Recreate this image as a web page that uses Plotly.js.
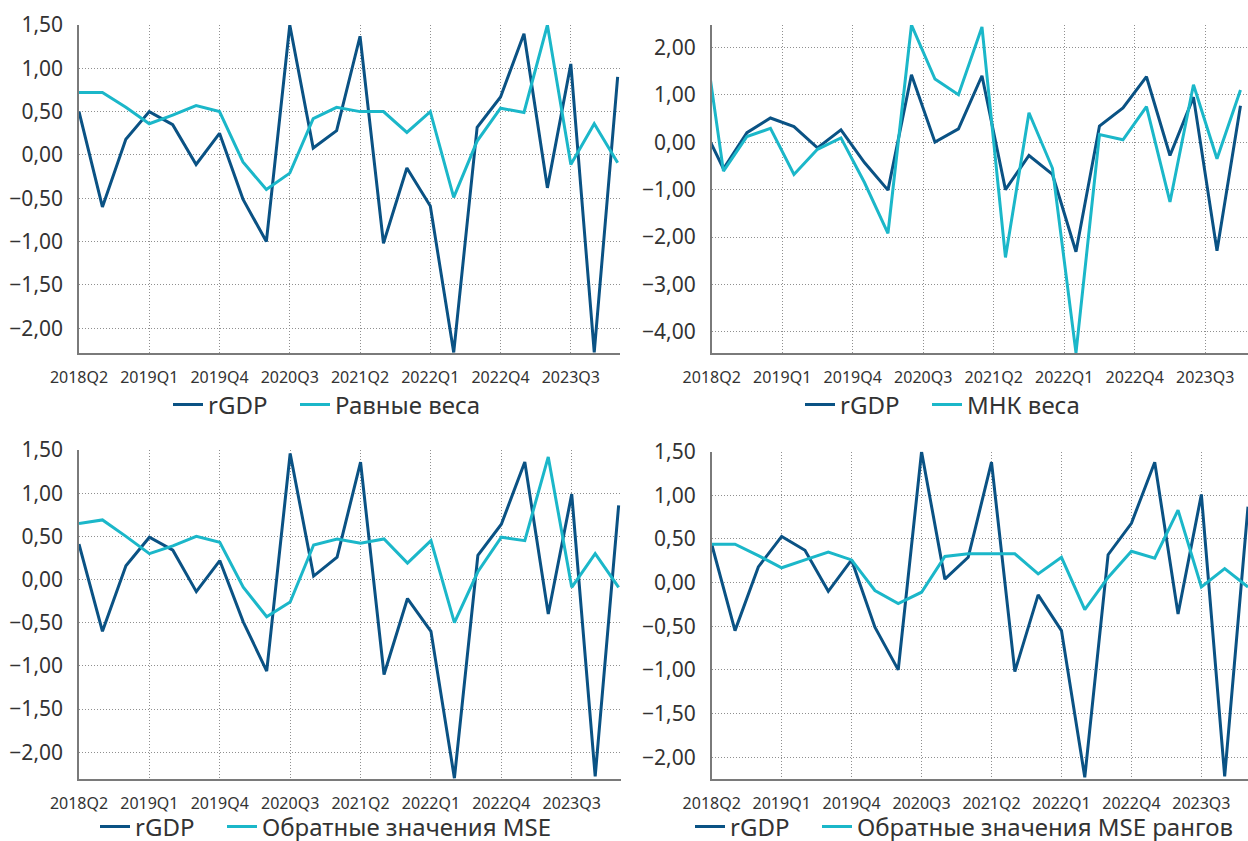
<!DOCTYPE html>
<html>
<head>
<meta charset="utf-8">
<script src="https://cdn.plot.ly/plotly-3.0.1.min.js"></script>
<style>html,body{margin:0;padding:0;background:#fff}#chart{width:1248px;height:841px}</style>
</head>
<body>
<div id="chart"></div>
<script>
// Quarters 2018Q2 .. 2024Q1
const quarters = ['2018Q2','2018Q3','2018Q4','2019Q1','2019Q2','2019Q3','2019Q4','2020Q1','2020Q2','2020Q3','2020Q4','2021Q1','2021Q2','2021Q3','2021Q4','2022Q1','2022Q2','2022Q3','2022Q4','2023Q1','2023Q2','2023Q3','2023Q4','2024Q1'];
const tickLabels = ['2018Q2','2019Q1','2019Q4','2020Q3','2021Q2','2022Q1','2022Q4','2023Q3'];

// Panel 1: rGDP vs equal weights
const rgdp1 = [0.50,-0.60,0.18,0.50,0.35,-0.11,0.25,-0.51,-1.00,1.50,0.08,0.28,1.37,-1.02,-0.15,-0.59,-2.28,0.32,0.67,1.40,-0.38,1.05,-2.28,0.90];
const equalW = [0.72,0.72,0.55,0.36,0.46,0.57,0.50,-0.08,-0.40,-0.21,0.42,0.55,0.50,0.50,0.26,0.50,-0.49,0.16,0.54,0.49,1.50,-0.11,0.36,-0.09];

// Panel 2: rGDP vs OLS weights
const rgdp2 = [0.46,-0.56,0.20,0.51,0.33,-0.12,0.26,-0.43,-1.01,1.42,0.00,0.28,1.40,-1.00,-0.28,-0.68,-2.31,0.34,0.72,1.38,-0.28,0.95,-2.29,0.77];
const olsW  = [2.87,-0.61,0.12,0.29,-0.68,-0.15,0.09,-0.85,-1.92,2.47,1.33,1.00,2.43,-2.43,0.62,-0.55,-4.44,0.16,0.05,0.75,-1.26,1.21,-0.35,1.10];

// Panel 3: rGDP vs inverse MSE
const rgdp3 = [0.41,-0.60,0.16,0.49,0.34,-0.14,0.22,-0.49,-1.06,1.46,0.04,0.26,1.36,-1.10,-0.22,-0.60,-2.30,0.28,0.64,1.36,-0.40,0.99,-2.28,0.86];
const invMSE = [0.65,0.69,0.50,0.30,0.39,0.50,0.43,-0.09,-0.43,-0.26,0.40,0.47,0.42,0.47,0.19,0.45,-0.50,0.09,0.49,0.45,1.42,-0.09,0.30,-0.09];

// Panel 4: rGDP vs inverse MSE ranks
const rgdp4 = [0.44,-0.55,0.18,0.53,0.37,-0.10,0.26,-0.51,-1.00,1.50,0.04,0.29,1.38,-1.02,-0.14,-0.55,-2.23,0.32,0.68,1.38,-0.36,1.01,-2.22,0.87];
const invMSERank = [0.44,0.44,0.31,0.17,0.26,0.35,0.26,-0.09,-0.24,-0.11,0.30,0.33,0.33,0.33,0.10,0.29,-0.31,0.06,0.36,0.28,0.83,-0.05,0.16,-0.05];

const names = ['Равные веса','МНК веса','Обратные значения MSE','Обратные значения MSE рангов'];

const DARK = '#0a5284';
const LIGHT = '#1bb7c9';
const FONT = '"Noto Sans", "Open Sans", sans-serif';
const idx = quarters.map((q,i)=>i);

const panels = [
  {rg: rgdp1, s: equalW, name: names[0]},
  {rg: rgdp2, s: olsW, name: names[1]},
  {rg: rgdp3, s: invMSE, name: names[2]},
  {rg: rgdp4, s: invMSERank, name: names[3]}
];

const traces = [];
panels.forEach((p,k)=>{
  const ax = k===0 ? '' : String(k+1);
  const lg = k===0 ? 'legend' : 'legend'+(k+1);
  traces.push({x: idx, y: p.rg, type:'scatter', mode:'lines', name:'rGDP',
    line:{color:DARK,width:3}, xaxis:'x'+ax, yaxis:'y'+ax, legend:lg, legendwidth:82,
    text: quarters, hoverinfo:'text+y', cliponaxis:true});
  traces.push({x: idx, y: p.s, type:'scatter', mode:'lines', name:p.name,
    line:{color:LIGHT,width:3}, xaxis:'x'+ax, yaxis:'y'+ax, legend:lg,
    text: quarters, hoverinfo:'text+y', cliponaxis:true});
});

const GRID = '#8f8f8f';
function xa(domain, range, offset, anchor){
  return {domain:domain, range:range, anchor:anchor, tickmode:'array', automargin:false,
    tickvals: tickLabels.map((t,i)=>i*3+offset), ticktext: tickLabels,
    showgrid:true, gridcolor:GRID, griddash:'1px,2px', gridwidth:1,
    showline:true, linecolor:'#7a7a7a', linewidth:1.5, zeroline:false,
    ticks:'', tickfont:{family:FONT,size:16,color:'#333'}, ticklabelstandoff:9, fixedrange:true};
}
function ya(domain, range, dtick, anchor){
  return {domain:domain, range:range, anchor:anchor, tickmode:'linear', tick0:0, dtick:dtick, automargin:false,
    tickformat:'.2f', showgrid:true, gridcolor:GRID, griddash:'1px,2px', gridwidth:1,
    showline:true, linecolor:'#7a7a7a', linewidth:1.5, zeroline:false,
    ticks:'', tickfont:{family:FONT,size:21,color:'#333'}, ticklabelstandoff:10, fixedrange:true};
}
function leg(x, y){
  return {orientation:'h', x:x, y:y, xanchor:'left', yanchor:'middle',
    font:{family:FONT,size:24,color:'#333'}, bgcolor:'rgba(0,0,0,0)', borderwidth:0, itemclick:false, itemdoubleclick:false};
}

const W=1248, H=841;
const px = v=>v/W, py = v=>1-v/H;

const layout = {
  width:W, height:H, margin:{l:0,r:0,t:0,b:0,autoexpand:false}, paper_bgcolor:'#fff', plot_bgcolor:'#fff',
  separators:', ', showlegend:true, font:{family:FONT,color:'#333'},
  xaxis:  xa([px(79),px(620)],[0,23.1],0,'y'),
  yaxis:  ya([py(353.3),py(25)],[-2.29,1.5],0.5,'x'),
  xaxis2: xa([px(711.7),1],[0.5,23.32],0.5,'y2'),
  yaxis2: ya([py(353.3),py(25)],[-4.45,2.47],1,'x2'),
  xaxis3: xa([px(79),px(621)],[0,23.1],0,'y3'),
  yaxis3: ya([py(779),py(450)],[-2.31,1.5],0.5,'x3'),
  xaxis4: xa([px(711.7),1],[0,23],0,'y4'),
  yaxis4: ya([py(779),py(451.7)],[-2.25,1.5],0.5,'x4'),
  legend:  leg(px(168),py(405)),
  legend2: leg(px(800),py(405)),
  legend3: leg(px(95),py(827)),
  legend4: leg(px(690),py(827))
};

Plotly.newPlot('chart', traces, layout, {displayModeBar:false, responsive:false});
</script>
</body>
</html>
